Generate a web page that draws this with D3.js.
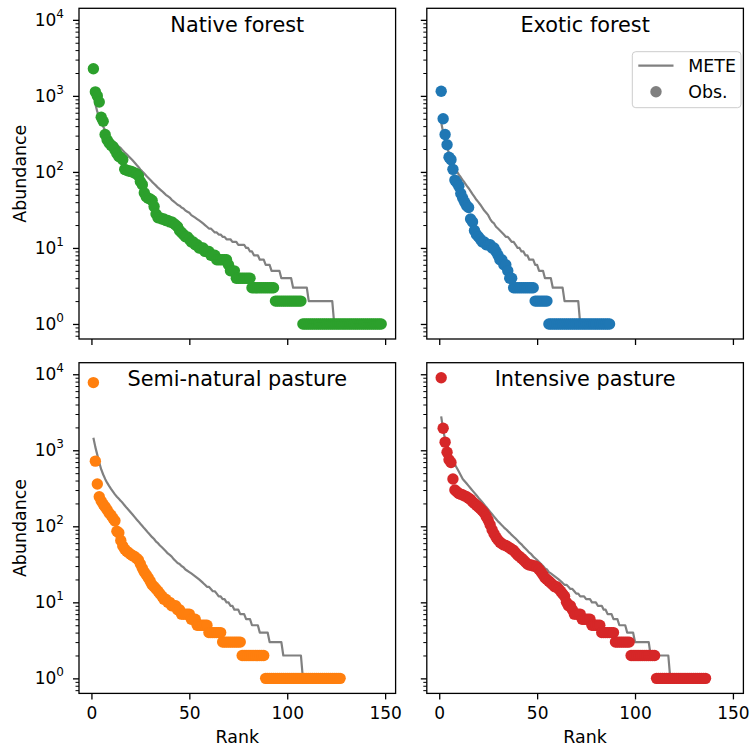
<!DOCTYPE html>
<html><head><meta charset="utf-8">
<script src="https://cdn.jsdelivr.net/npm/d3@7"></script>
<style>body{margin:0;background:#fff} svg{display:block} text{font-family:"DejaVu Sans",sans-serif}</style>
</head><body><svg id="chart" width="751" height="750"></svg>
<script>
// ---------------- data ----------------
const panelTitles = ["Native forest", "Exotic forest", "Semi-natural pasture", "Intensive pasture"];
const obsColors = ["#2ca02c", "#1f77b4", "#ff7f0e", "#d62728"];
const xTicks = [0, 50, 100, 150];
const yTicks = [1, 10, 100, 1000, 10000];
const legendLabels = ["METE", "Obs."];
const xLabel = "Rank";
const yLabel = "Abundance";

const nativeObs = [2270,1130,1000,830,525,465,310,265,240,225,
215,195,175,160,155,145,108,105,103,102,
100,97,95,89,75,68,53,47,45,44,
42,35,28,25,25,24,24,23,23,22,
22,21,20,19,17,16,15,14,14,13,
12,12,11,11,10,10,10,9,9,9,
8,8,8,7,7,7,7,7,7,6,
5,5,5,
4,4,4,4,4,4,4,4,
3,3,3,3,3,3,3,3,3,3,3,3,
2,2,2,2,2,2,2,2,2,2,2,2,2,2,
1,1,1,1,1,1,1,1,1,1,
1,1,1,1,1,1,1,1,1,1,
1,1,1,1,1,1,1,1,1,1,
1,1,1,1,1,1,1,1,1,1,
1];
const nativeMete = [1100,780,620,520,450,395,350,320,295,275,
255,240,227,215,205,192,180,170,160,151,
142,133,124,116,108,101,95,89,84,79,
74,70,66,62,59,56,53,50,48,46,
43,41,39,37,36,34,33,31,30,29,
27,26,25,24,23,22,21,20,19,18,
18,17,16,16,15,15,14,14,13,13,
13,12,12,12,11,11,11,11,
10,10,
9,9,
8,8,8,
7,7,7,
6,6,6,
5,5,5,5,5,
4,4,4,4,4,4,
3,3,3,3,3,3,3,3,
2,2,2,2,2,2,2,2,2,2,2,2,2,
1,1,1,1,1,1,1,1,1,1,1,1,1,
1,1,1,1,1,1,1,1,1,1,1,1];

const exoticObs = [1150,500,310,228,156,145,108,78,72,65,
52,45,40,36,34,24,22,17,15,14,
13,12,12,11,11,11,10,10,9,8,
7,7,6,6,5,4,4,
3,3,3,3,3,3,3,3,3,3,3,
2,2,2,2,2,2,2,
1,1,1,1,1,1,1,1,1,1,1,1,1,1,1,1,
1,1,1,1,1,1,1,1,1,1,1,1,1,1,1,1];
const exoticMete = [450,330,260,210,175,150,130,115,102,92,
85,78,72,66,61,56,51,47,43,40,
37,34,31,29,27,24,22,21,19,18,
17,16,15,14,14,13,12,12,11,10,
10,9,9,8,8,7,7,7,6,6,
5,5,5,
4,4,4,4,
3,3,3,3,3,3,
2,2,2,2,2,2,2,2,
1,1,1,1,1,1,1,1,1,1,1,1,1,1,1,1];

const semiObs = [7770,720,360,245,215,195,180,165,150,140,
128,118,86,82,65,55,50,47,45,43,
41,40,38,36,32,28,25,23,21,19,
17,16,15,14,13,12,11,11,10,10,
9,9,9,8,8,7,7,7,7,7,
6,6,6,5,5,5,5,5,5,
4,4,4,4,4,4,4,
3,3,3,3,3,3,3,3,3,3,
2,2,2,2,2,2,2,2,2,2,2,2,
1,1,1,1,1,1,1,1,1,1,1,1,1,
1,1,1,1,1,1,1,1,1,1,1,1,1,
1,1,1,1,1,1,1,1,1,1,1,1,1];
const semiMete = [1460,1100,870,690,560,480,420,375,340,310,
285,263,245,230,216,202,188,175,164,153,
143,133,124,116,108,101,94,88,82,77,
72,68,63,60,56,53,50,47,44,42,
40,37,35,33,32,30,29,27,26,25,
24,23,22,21,20,19,18,17,16,16,
15,14,14,13,12,12,11,11,10,10,
9,9,8,8,8,7,7,7,6,6,
6,5,5,5,5,
4,4,4,4,4,
3,3,3,3,3,3,3,
2,2,2,2,2,2,2,2,2,2,
1,1,1,1,1,1,1,1,1,1,1,1,1,1,1,1,1,1,1,1];

const intensiveObs = [9000,1950,1280,940,750,690,420,300,285,270,
265,258,250,245,235,225,210,200,190,180,
170,160,150,135,120,105,90,80,72,66,
62,59,57,56,54,52,50,48,45,42,
40,38,36,34,32,31,31,30,30,29,
27,25,23,21,20,19,18,17,16,16,
15,14,13,12,10,9,9,8,7,7,
7,7,6,6,6,6,6,5,5,5,5,5,
4,4,4,4,4,4,4,
3,3,3,3,3,3,3,3,
2,2,2,2,2,2,2,2,2,2,2,2,2,
1,1,1,1,1,1,1,1,1,1,1,1,1,
1,1,1,1,1,1,1,1,1,1,1,1,1];
const intensiveMete = [2800,1850,1400,1150,960,830,730,650,585,525,
470,420,392,365,340,317,295,275,256,238,
222,207,193,179,167,155,144,134,125,116,
110,103,97,92,87,82,77,73,69,65,
61,58,54,51,48,45,43,40,38,36,
34,32,30,28,27,25,24,23,22,21,
20,19,18,17,17,16,15,15,14,13,
13,12,12,12,11,11,11,10,10,10,
9,9,9,
8,8,
7,7,7,
6,6,6,
5,5,5,5,
4,4,4,4,
3,3,3,3,3,3,3,3,
2,2,2,2,2,2,2,2,2,2,
1,1,1,1,1,1,1,1,1,1,1,1,1,1,1,1,1,1,1];

// ---------------- layout ----------------
const obsSeries = [nativeObs, exoticObs, semiObs, intensiveObs];
const meteSeries = [nativeMete, exoticMete, semiMete, intensiveMete];
const panelLeft = [79, 426.8], panelTop = [8.3, 362.7];
const pw = 316.6, ph = 330.7;
const lineColor = "#808080";

const svg = d3.select("#chart");
svg.append("rect").attr("width", 751).attr("height", 750).attr("fill", "#fff");

const maxRank = d3.max(obsSeries, s => s.length);
const xPad = (maxRank - 1) * 0.05;
const xDomain = [1 - xPad, maxRank + xPad];
const logMax = Math.log10(d3.max(obsSeries.concat(meteSeries), s => d3.max(s)));
const logMin = 0;
const yPad = (logMax - logMin) * 0.05;
const yDomain = [Math.pow(10, logMin - yPad), Math.pow(10, logMax + yPad)];

obsSeries.forEach((obs, i) => {
  const col = i % 2, row = Math.floor(i / 2);
  const L = panelLeft[col], T = panelTop[row];
  const x = d3.scaleLinear().domain(xDomain).range([L, L + pw]);
  const y = d3.scaleLog().domain(yDomain).range([T + ph, T]);
  const g = svg.append("g");

  // METE line
  const line = d3.line().x((d, k) => x(k + 1)).y(d => y(d));
  g.append("path").datum(meteSeries[i])
    .attr("d", line).attr("fill", "none")
    .attr("stroke", lineColor).attr("stroke-width", 2.2)
    .attr("stroke-linejoin", "round").attr("stroke-linecap", "butt");

  // observed points
  g.append("g").selectAll("circle").data(obs).join("circle")
    .attr("cx", (d, k) => x(k + 1)).attr("cy", d => y(d))
    .attr("r", 5.7).attr("fill", obsColors[i]);

  // x axis
  const xa = g.append("g").attr("transform", `translate(0,${T + ph})`)
    .call(d3.axisBottom(x).tickValues(xTicks).tickSize(6).tickPadding(7.5)
      .tickFormat(row === 1 ? d3.format("d") : () => ""));
  xa.select(".domain").remove();
  xa.selectAll("line").attr("stroke", "#000").attr("stroke-width", 1.3);
  xa.selectAll("text").attr("font-size", 17).attr("fill", "#000")
    .attr("font-family", "DejaVu Sans");

  // y axis minor
  const minor = y.ticks().filter(v => Math.abs(Math.log10(v) - Math.round(Math.log10(v))) > 1e-6);
  const ym = g.append("g").attr("transform", `translate(${L},0)`)
    .call(d3.axisLeft(y).tickValues(minor).tickSize(3.5).tickFormat(() => ""));
  ym.select(".domain").remove();
  ym.selectAll("line").attr("stroke", "#000").attr("stroke-width", 1);

  // y axis major
  const ya = g.append("g").attr("transform", `translate(${L},0)`)
    .call(d3.axisLeft(y).tickValues(yTicks).tickSize(6).tickPadding(9).tickFormat(() => ""));
  ya.select(".domain").remove();
  ya.selectAll("line").attr("stroke", "#000").attr("stroke-width", 1.3);
  if (col === 0) {
    ya.selectAll(".tick text").each(function (d) {
      const t = d3.select(this);
      t.text(null).attr("font-size", 17).attr("fill", "#000").attr("font-family", "DejaVu Sans");
      t.append("tspan").text("10");
      t.append("tspan").attr("dy", -8).attr("font-size", 12).text(Math.round(Math.log10(d)));
    });
  }

  // spines
  g.append("rect").attr("x", L).attr("y", T).attr("width", pw).attr("height", ph)
    .attr("fill", "none").attr("stroke", "#000").attr("stroke-width", 1.3);

  // title
  g.append("text").attr("x", L + pw / 2).attr("y", T + 23.4)
    .attr("text-anchor", "middle").attr("font-size", 20.8).attr("fill", "#000")
    .text(panelTitles[i]);

  if (col === 0) {
    g.append("text").attr("transform", `translate(26,${T + ph / 2}) rotate(-90)`)
      .attr("text-anchor", "middle").attr("font-size", 17.4).attr("fill", "#000")
      .text(yLabel);
  }
  if (row === 1) {
    g.append("text").attr("x", L + pw / 2).attr("y", 742.7)
      .attr("text-anchor", "middle").attr("font-size", 17.4).attr("fill", "#000")
      .text(xLabel);
  }

  // legend in exotic forest panel
  if (i === 1) {
    const lg = g.append("g");
    lg.append("rect").attr("x", 632.3).attr("y", 51.7).attr("width", 108.7).attr("height", 56)
      .attr("rx", 3.5).attr("fill", "#fff").attr("fill-opacity", 0.8)
      .attr("stroke", "#cccccc").attr("stroke-width", 1);
    lg.append("line").attr("x1", 638.3).attr("x2", 673.5).attr("y1", 65.7).attr("y2", 65.7)
      .attr("stroke", lineColor).attr("stroke-width", 2.2);
    lg.append("circle").attr("cx", 656).attr("cy", 91.7).attr("r", 5.7).attr("fill", lineColor);
    lg.append("text").attr("x", 688.3).attr("y", 72.3).attr("font-size", 17.4).attr("fill", "#000").text(legendLabels[0]);
    lg.append("text").attr("x", 688.3).attr("y", 98.3).attr("font-size", 17.4).attr("fill", "#000").text(legendLabels[1]);
  }
});
</script></body></html>
